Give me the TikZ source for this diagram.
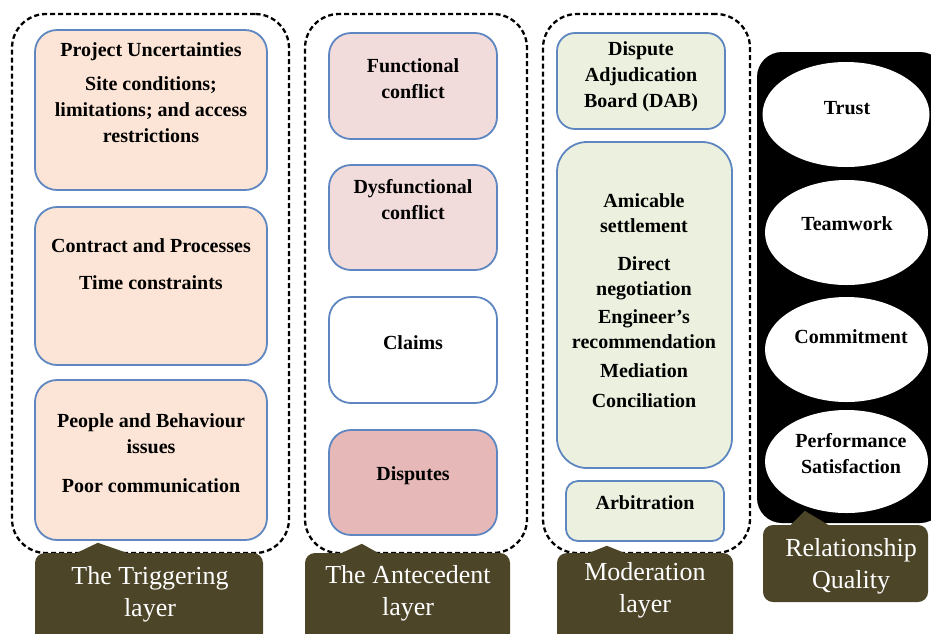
\documentclass[tikz,border=0pt]{standalone}
\usepackage{fontspec}
\setmainfont{Liberation Serif}
\usetikzlibrary{shapes.geometric}
\definecolor{tabcol}{RGB}{76,69,40}
\definecolor{bluebd}{RGB}{94,134,192}
\definecolor{peach}{RGB}{252,229,214}
\definecolor{pinkA}{RGB}{242,220,219}
\definecolor{pinkB}{RGB}{230,185,184}
\definecolor{greenA}{RGB}{235,241,222}
\begin{document}
\begin{tikzpicture}[x=1pt,y=-1pt,
  container/.style={draw=black,line width=2.3pt,dash pattern=on 5pt off 3pt,rounded corners=34pt,inner sep=0pt},
  ibox/.style={draw=bluebd,line width=1.8pt,rounded corners=22pt,inner sep=0pt},
  txt/.style={align=center,font=\fontsize{20}{26}\selectfont\bfseries,inner sep=0pt},
  tab/.style={fill=tabcol,rounded corners=10pt,inner sep=0pt},
  tabtxt/.style={align=center,text=white,font=\fontsize{26}{32}\selectfont,inner sep=0pt},
  oval/.style={ellipse,fill=white,inner sep=0pt}]
\useasboundingbox (0,0) rectangle (931,633);
% containers
\node[container,minimum width=277pt,minimum height=539pt] (c1) at (150.5,283.5) {};
\node[container,minimum width=222pt,minimum height=539pt] (c2) at (416,283.5) {};
\node[container,minimum width=207pt,minimum height=539pt] (c3) at (646.5,283.5) {};
\fill[black,rounded corners=25pt] (757,52) rectangle (945,523);
% triggering layer
\node[ibox,fill=peach,minimum width=232pt,minimum height=160pt] (t1) at (151,110) {};
\node[ibox,fill=peach,minimum width=232pt,minimum height=158pt] (t2) at (151,286) {};
\node[ibox,fill=peach,minimum width=232pt,minimum height=160pt] (t3) at (151,460) {};
\node[txt] (t1t) at (151,93) {Project Uncertainties\\[8pt]Site conditions;\\limitations; and access\\restrictions};
\node[txt] (t2t) at (151,264.5) {Contract and Processes\\[11pt]Time constraints};
\node[txt] (t3t) at (151,453.5) {People and Behaviour\\issues\\[13pt]Poor communication};
% antecedent layer
\node[ibox,fill=pinkA,minimum width=168pt,minimum height=106pt] (a1) at (413,86) {};
\node[ibox,fill=pinkA,minimum width=168pt,minimum height=105pt] (a2) at (413,217.5) {};
\node[ibox,fill=white,minimum width=168pt,minimum height=106pt] (a3) at (413,350) {};
\node[ibox,fill=pinkB,minimum width=168pt,minimum height=105pt] (a4) at (413,482.5) {};
\node[txt] (a1t) at (413,79) {Functional\\conflict};
\node[txt] (a2t) at (413,199.5) {Dysfunctional\\conflict};
\node[txt] (a3t) at (413,343) {Claims};
\node[txt] (a4t) at (413,476) {Disputes};
% moderation layer
\node[ibox,fill=greenA,minimum width=168pt,minimum height=96pt,rounded corners=18pt] (m1) at (641,81) {};
\node[ibox,fill=greenA,minimum width=175pt,minimum height=326pt,rounded corners=30pt] (m2) at (644.5,305) {};
\node[ibox,fill=greenA,minimum width=158pt,minimum height=60pt,rounded corners=12pt] (m3) at (645,511) {};
\node[txt] (m1t) at (641,77) {Dispute\\Adjudication\\Board (DAB)};
\node[txt,font=\fontsize{20}{25}\selectfont\bfseries] (m2t) at (644,300.5) {Amicable\\settlement\\[13pt]Direct\\negotiation\\[3pt]Engineer's\\recommendation\\[4pt]Mediation\\[5pt]Conciliation};
\node[txt] (m3t) at (645,503) {Arbitration};
% relationship quality
\node[oval,minimum width=167pt,minimum height=105pt] (r1) at (846,114.5) {};
\node[oval,minimum width=163pt,minimum height=105pt] (r2) at (846.5,232.5) {};
\node[oval,minimum width=163pt,minimum height=105pt] (r3) at (846.5,349.5) {};
\node[oval,minimum width=163pt,minimum height=103pt] (r4) at (846.5,461.5) {};
\node[txt] (r1t) at (847,108) {Trust};
\node[txt] (r2t) at (847,224) {Teamwork};
\node[txt] (r3t) at (851,337) {Commitment};
\node[txt] (r4t) at (851,454) {Performance\\Satisfaction};
% tabs
\node[tab,minimum width=228pt,minimum height=90pt] (tabT) at (149,598) {};
\fill[tabcol] ([xshift=40pt,yshift=-1pt]tabT.north west) -- ++(23,-11) -- ++(32,11) -- cycle;
\node[tabtxt] (tabTt) at (150,594) {The Triggering\\layer};
\node[tab,minimum width=205pt,minimum height=90pt] (tabA) at (407.5,598) {};
\fill[tabcol] ([xshift=35pt,yshift=-1pt]tabA.north west) -- ++(22,-10) -- ++(18,10) -- cycle;
\node[tabtxt] (tabAt) at (408,593) {The Antecedent\\layer};
\node[tab,minimum width=176pt,minimum height=90pt] (tabM) at (645,598) {};
\fill[tabcol] ([xshift=30pt,yshift=-1pt]tabM.north west) -- ++(20,-8) -- ++(20,8) -- cycle;
\node[tabtxt] (tabMt) at (645,590) {Moderation\\layer};
\node[tab,minimum width=165pt,minimum height=77pt] (tabR) at (845.5,563.5) {};
\fill[tabcol] ([xshift=27pt,yshift=-1pt]tabR.north west) -- ++(15,-15) -- ++(25,15) -- cycle;
\node[tabtxt] (tabRt) at (851,566) {Relationship\\Quality};
\end{tikzpicture}
\end{document}
